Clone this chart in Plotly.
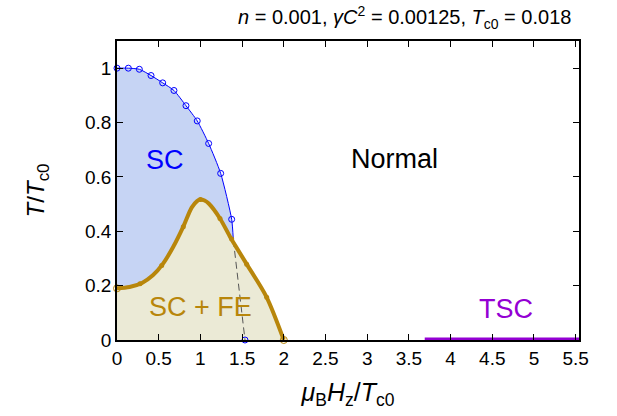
import plotly.graph_objects as go

# SC boundary (blue)
sc_x = [0.0, 0.136, 0.268, 0.408, 0.548, 0.683, 0.827, 0.962, 1.099, 1.243, 1.375]
sc_y = [1.0, 1.0, 0.996, 0.973, 0.946, 0.918, 0.862, 0.806, 0.723, 0.613, 0.444]
sc_end_x = [1.395]
sc_end_y = [0.368]
# dashed continuation
dash_x = [1.395, 1.535]
dash_y = [0.368, 0.0]
# SC + FE boundary (gold)
fe_x = [0.0, 0.15, 0.3, 0.43, 0.55, 0.675, 0.795, 0.895, 0.96, 1.0, 1.05, 1.1, 1.235, 1.355, 1.415, 1.555, 1.795, 2.0]
fe_y = [0.19, 0.195, 0.21, 0.238, 0.28, 0.343, 0.417, 0.487, 0.511, 0.517, 0.513, 0.502, 0.447, 0.380, 0.349, 0.279, 0.157, 0.0]
# small markers on the gold curve
fe_mx = [0.276, 0.536, 0.795, 1.0, 1.235, 1.375, 1.555, 1.795]
fe_my = [0.207, 0.274, 0.417, 0.517, 0.447, 0.372, 0.279, 0.157]
# TSC segment
tsc_x = [3.69, 5.54]
tsc_y = [0.0, 0.0]

xticks = [0, 0.5, 1, 1.5, 2, 2.5, 3, 3.5, 4, 4.5, 5, 5.5]
yticks = [0, 0.2, 0.4, 0.6, 0.8, 1]

BLUE = "#0000ff"
BLUE_FILL = "#c6d4f4"
GOLD = "#b8860b"
GOLD_FILL = "#ebead6"
PURPLE = "#9400d3"
FONT = "Liberation Sans, Arial, sans-serif"

fig = go.Figure()

# blue fill under SC curve (down the dashed line)
fig.add_trace(go.Scatter(x=sc_x + sc_end_x + [dash_x[1]], y=sc_y + sc_end_y + [dash_y[1]],
                         mode="lines", line=dict(width=0, shape="spline", smoothing=0.6),
                         fill="tozeroy", fillcolor=BLUE_FILL, hoverinfo="skip"))
# gold fill
fig.add_trace(go.Scatter(x=fe_x, y=fe_y, mode="lines",
                         line=dict(width=0, shape="spline", smoothing=0.8),
                         fill="tozeroy", fillcolor=GOLD_FILL, hoverinfo="skip"))
# dashed line
fig.add_trace(go.Scatter(x=dash_x, y=dash_y, mode="lines",
                         line=dict(color="#555555", width=1, dash="7px,4px")))
# blue curve
fig.add_trace(go.Scatter(x=sc_x + sc_end_x, y=sc_y + sc_end_y, mode="lines",
                         line=dict(color=BLUE, width=1, shape="spline", smoothing=0.6)))
fig.add_trace(go.Scatter(x=sc_x + [dash_x[1]], y=sc_y + [dash_y[1]], mode="markers",
                         cliponaxis=False,
                         marker=dict(symbol="circle-open", size=6, color=BLUE, line=dict(width=1))))
# gold curve
fig.add_trace(go.Scatter(x=fe_x, y=fe_y, mode="lines",
                         line=dict(color=GOLD, width=4, shape="spline", smoothing=0.8)))
fig.add_trace(go.Scatter(x=fe_mx, y=fe_my, mode="markers",
                         marker=dict(size=5, color=GOLD)))
fig.add_trace(go.Scatter(x=[fe_x[0], fe_x[-1]], y=[fe_y[0], fe_y[-1]], mode="markers",
                         cliponaxis=False,
                         marker=dict(symbol="circle-open", size=7, color=GOLD, line=dict(width=1))))
# TSC
fig.add_trace(go.Scatter(x=tsc_x, y=tsc_y, mode="lines",
                         line=dict(color=PURPLE, width=5), cliponaxis=False))

fig.add_annotation(x=0.575, y=0.662, text="SC", showarrow=False,
                   font=dict(family=FONT, size=27, color=BLUE))
fig.add_annotation(x=3.33, y=0.665, text="Normal", showarrow=False,
                   font=dict(family=FONT, size=27, color="black"))
fig.add_annotation(x=1.0, y=0.12, text="SC + FE", showarrow=False,
                   font=dict(family=FONT, size=27, color=GOLD))
fig.add_annotation(x=4.66, y=0.114, text="TSC", showarrow=False,
                   font=dict(family=FONT, size=27, color=PURPLE))
fig.add_annotation(xref="paper", yref="paper", x=1.0, y=1.0, xshift=-6, yshift=7,
                   xanchor="right", yanchor="bottom",
                   text="<i>n</i> = 0.001, <i>γC</i><sup>2</sup> = 0.00125, <i>T</i><sub>c0</sub> = 0.018",
                   showarrow=False, font=dict(family=FONT, size=20, color="black"))

fig.update_layout(
    width=617, height=416, margin=dict(l=117, r=38, t=41, b=76),
    paper_bgcolor="white", plot_bgcolor="white", showlegend=False,
    font=dict(family=FONT, size=19, color="black"),
)
fig.update_xaxes(range=[0, 5.54], tickvals=xticks, ticktext=[f"{t:g}" for t in xticks],
                 ticks="inside", ticklen=6, tickcolor="black", showline=True, linecolor="black",
                 linewidth=1.5, mirror="ticks", showgrid=False, zeroline=False,
                 title=dict(text="<i>μ</i><sub>B</sub><i>H</i><sub>z</sub>/<i>T</i><sub>c0</sub>",
                            font=dict(size=25), standoff=16))
fig.update_yaxes(range=[0, 1.1], tickvals=yticks, ticktext=[f"{t:g}" for t in yticks],
                 ticks="inside", ticklen=6, tickcolor="black", showline=True, linecolor="black",
                 linewidth=1.5, mirror="ticks", showgrid=False, zeroline=False,
                 title=dict(text="<i>T</i>/<i>T</i><sub>c0</sub>", font=dict(size=24), standoff=34))

fig.write_html("out.html")
